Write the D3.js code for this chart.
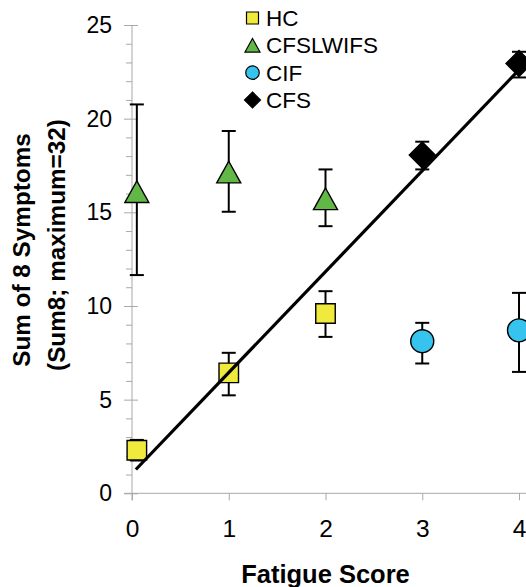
<!DOCTYPE html>
<html><head><meta charset="utf-8">
<script src="https://cdn.jsdelivr.net/npm/d3@7"></script>
<style>
body{margin:0;background:#fff}
svg{display:block;font-family:"Liberation Sans",Arial,Helvetica,sans-serif}
</style>
</head><body>
<svg id="chart" width="526" height="587"></svg>
<script>
// ---- data ----
const groups = ["HC", "CFSLWIFS", "CIF", "CFS"];
const hcX = [0.05, 1, 2];
const hcMean = [2.3, 6.43, 9.6];
const hcLow = [1.75, 5.23, 8.35];
const hcHigh = [2.85, 7.5, 10.79];

const cfslX = [0.05, 1, 2];
const cfslMean = [16.1, 17.15, 15.72];
const cfslLow = [11.65, 15.03, 14.26];
const cfslHigh = [20.76, 19.34, 17.29];

const cifX = [3, 4];
const cifMean = [8.12, 8.7];
const cifLow = [6.93, 6.48];
const cifHigh = [9.1, 10.7];

const cfsX = [3, 4];
const cfsMean = [18.06, 22.95];
const cfsLow = [17.29, 22.2];
const cfsHigh = [18.77, 23.57];

const fitX = [0.04, 3.98];
const fitY = [1.27, 22.5];

const xTicks = [0, 1, 2, 3, 4];
const yTicks = [0, 5, 10, 15, 20, 25];
const yMinor = d3.range(0, 26);

const xTitle = "Fatigue Score";
const yTitle1 = "Sum of 8 Symptoms";
const yTitle2 = "(Sum8; maximum=32)";

// ---- layout ----
const W = 526, H = 587;
const svg = d3.select("#chart");
const x = d3.scaleLinear().domain([0, 4]).range([132, 519]);
const y = d3.scaleLinear().domain([0, 25]).range([493.3, 25]);
const axisColor = "#a8a8a8";

// custom symbols centred on their bounding box
const symSquare = {draw(ctx, s){ const h = s/2; ctx.rect(-h, -h, s, s); }};
const symTri = {draw(ctx, s){ const w = s/2, h = s*0.45; ctx.moveTo(0, -h); ctx.lineTo(w, h); ctx.lineTo(-w, h); ctx.closePath(); }};
const symCircle = {draw(ctx, s){ const r = s/2; ctx.moveTo(r, 0); ctx.arc(0, 0, r, 0, 2*Math.PI); }};
const symDiamond = {draw(ctx, s){ const h = s/2; ctx.moveTo(0, -h); ctx.lineTo(h, 0); ctx.lineTo(0, h); ctx.lineTo(-h, 0); ctx.closePath(); }};

const series = [
  {name: groups[0], xs: hcX, m: hcMean, lo: hcLow, hi: hcHigh, sym: symSquare, size: 19.5, legSize: 12, fill: "#EFEA3C"},
  {name: groups[1], xs: cfslX, m: cfslMean, lo: cfslLow, hi: cfslHigh, sym: symTri, size: 24, legSize: 15, fill: "#62B846"},
  {name: groups[2], xs: cifX, m: cifMean, lo: cifLow, hi: cifHigh, sym: symCircle, size: 23, legSize: 13.5, fill: "#36C3EE"},
  {name: groups[3], xs: cfsX, m: cfsMean, lo: cfsLow, hi: cfsHigh, sym: symDiamond, size: 26, legSize: 16, fill: "#000000"}
];

// ---- axes ----
const gMinor = svg.append("g").attr("transform", `translate(${x(0)},0)`)
  .call(d3.axisLeft(y).tickValues(yMinor.filter(v => v % 5 !== 0)).tickSize(6).tickFormat(""));
gMinor.select(".domain").remove();
gMinor.selectAll(".tick line").attr("stroke", axisColor);

const gY = svg.append("g").attr("transform", `translate(${x(0)},0)`)
  .call(d3.axisLeft(y).tickValues(yTicks).tickSize(8).tickPadding(12).tickFormat(d3.format("d")));
gY.select(".domain").remove();
gY.selectAll(".tick line").attr("stroke", axisColor).attr("x1", 6).attr("x2", -8);
gY.selectAll(".tick text").attr("font-size", 23).attr("fill", "#000")
  .attr("font-family", '"Liberation Sans",Arial,sans-serif');

const gX = svg.append("g").attr("transform", `translate(0,${y(0)})`)
  .call(d3.axisBottom(x).tickValues(xTicks).tickSize(7).tickPadding(19).tickFormat(d3.format("d")));
gX.select(".domain").remove();
gX.selectAll(".tick line").attr("stroke", axisColor);
gX.selectAll(".tick text").attr("font-size", 24.5).attr("fill", "#000")
  .attr("font-family", '"Liberation Sans",Arial,sans-serif');

svg.append("line").attr("x1", x(0)).attr("x2", x(0)).attr("y1", y(25)).attr("y2", y(0) + 7)
  .attr("stroke", axisColor).attr("stroke-width", 1);
svg.append("line").attr("x1", x(0) - 8).attr("x2", W).attr("y1", y(0)).attr("y2", y(0))
  .attr("stroke", axisColor).attr("stroke-width", 1);

// ---- error bars ----
const capW = 14;
series.forEach(s => {
  const g = svg.append("g").attr("stroke", "#000").attr("stroke-width", 2).attr("fill", "none");
  s.xs.forEach((xv, i) => {
    const cx = x(xv);
    g.append("line").attr("x1", cx).attr("x2", cx).attr("y1", y(s.lo[i])).attr("y2", y(s.hi[i]));
    g.append("line").attr("x1", cx - capW/2).attr("x2", cx + capW/2).attr("y1", y(s.lo[i])).attr("y2", y(s.lo[i]));
    g.append("line").attr("x1", cx - capW/2).attr("x2", cx + capW/2).attr("y1", y(s.hi[i])).attr("y2", y(s.hi[i]));
  });
});

// ---- markers ----
series.forEach(s => {
  svg.append("g").selectAll("path").data(s.xs.map((xv, i) => [xv, s.m[i]])).join("path")
    .attr("transform", d => `translate(${x(d[0])},${y(d[1])})`)
    .attr("d", d3.symbol(s.sym, s.size)())
    .attr("fill", s.fill).attr("stroke", "#000").attr("stroke-width", 1.4);
});

// ---- regression line ----
svg.append("path")
  .datum(fitX.map((xv, i) => [xv, fitY[i]]))
  .attr("d", d3.line().x(d => x(d[0])).y(d => y(d[1])))
  .attr("stroke", "#000").attr("stroke-width", 3.2).attr("fill", "none");

// ---- legend ----
const legY = d3.scalePoint().domain(groups).range([18, 100]);
const leg = svg.append("g");
series.forEach(s => {
  leg.append("path").attr("transform", `translate(252.5,${legY(s.name)})`)
    .attr("d", d3.symbol(s.sym, s.legSize)())
    .attr("fill", s.fill).attr("stroke", "#000").attr("stroke-width", 1.2);
  leg.append("text").attr("x", 266).attr("y", legY(s.name)).attr("dy", "0.36em")
    .attr("font-size", 22.5).attr("fill", "#000").text(s.name);
});

// ---- titles ----
svg.append("text").attr("x", x(2)).attr("y", 583).attr("text-anchor", "middle")
  .attr("font-size", 25.5).attr("font-weight", "bold").attr("fill", "#000").text(xTitle);
svg.append("text").attr("transform", "translate(29.5,250) rotate(-90)").attr("text-anchor", "middle")
  .attr("font-size", 24.3).attr("font-weight", "bold").attr("fill", "#000").text(yTitle1);
svg.append("text").attr("transform", "translate(64.5,245) rotate(-90)").attr("text-anchor", "middle")
  .attr("font-size", 24.3).attr("font-weight", "bold").attr("fill", "#000").text(yTitle2);
</script>
</body></html>
